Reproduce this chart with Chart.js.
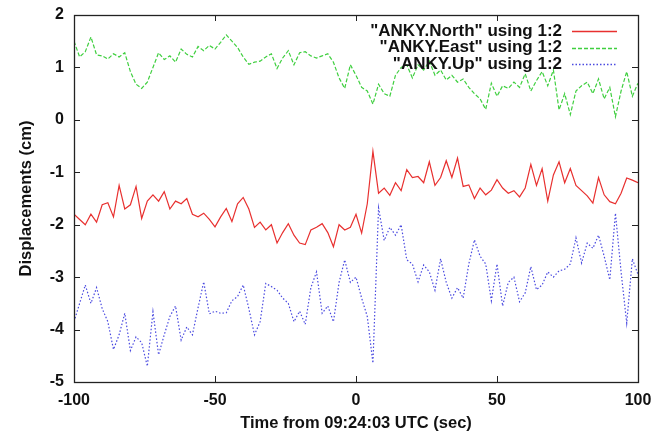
<!DOCTYPE html>
<html>
<head>
<meta charset="utf-8">
<script src="https://cdn.jsdelivr.net/npm/chart.js@4.4.1/dist/chart.umd.min.js"></script>
<style>
  html, body { margin: 0; padding: 0; background: #ffffff; }
  #wrap { width: 654px; height: 435px; }
</style>
</head>
<body>
<div id="wrap"><canvas id="c" width="654" height="435"></canvas></div>
<script>
// Time (sec from 09:24:03 UTC)
const times = [
  -100,-98,-96,-94,-92,-90,-88,-86,-84,-82,
  -80,-78,-76,-74,-72,-70,-68,-66,-64,-62,
  -60,-58,-56,-54,-52,-50,-48,-46,-44,-42,
  -40,-38,-36,-34,-32,-30,-28,-26,-24,-22,
  -20,-18,-16,-14,-12,-10,-8,-6,-4,-2,
  0,2,4,6,8,10,12,14,16,18,
  20,22,24,26,28,30,32,34,36,38,
  40,42,44,46,48,50,52,54,56,58,
  60,62,64,66,68,70,72,74,76,78,
  80,82,84,86,88,90,92,94,96,98,
  100
];

const northValues = [
  -1.80,-1.90,-2.00,-1.80,-1.95,-1.62,-1.58,-1.85,-1.25,-1.70,
  -1.62,-1.27,-1.88,-1.55,-1.43,-1.55,-1.37,-1.70,-1.55,-1.60,
  -1.50,-1.80,-1.85,-1.78,-1.90,-2.04,-1.85,-1.69,-1.94,-1.60,
  -1.48,-1.70,-2.05,-1.95,-2.10,-2.00,-2.35,-2.15,-1.98,-2.20,
  -2.35,-2.38,-2.10,-2.05,-1.98,-2.15,-2.42,-2.00,-2.10,-2.05,
  -1.80,-2.16,-1.60,-0.60,-1.40,-1.30,-1.44,-1.20,-1.35,-0.95,
  -1.10,-1.08,-1.20,-0.80,-1.25,-1.10,-0.78,-1.10,-0.73,-1.27,
  -1.24,-1.50,-1.30,-1.43,-1.34,-1.14,-1.30,-1.40,-1.35,-1.47,
  -1.30,-0.85,-1.25,-0.93,-1.55,-1.05,-0.80,-1.20,-0.93,-1.25,
  -1.35,-1.45,-1.59,-1.10,-1.43,-1.56,-1.60,-1.40,-1.11,-1.15,
  -1.20
];

const eastValues = [
  1.50,1.20,1.30,1.58,1.24,1.22,1.16,1.26,1.20,1.28,
  0.92,0.68,0.60,0.72,1.00,1.28,1.15,1.22,1.10,1.35,
  1.25,1.20,1.40,1.32,1.42,1.35,1.48,1.62,1.50,1.38,
  1.20,1.06,1.10,1.12,1.20,1.26,0.98,1.18,1.32,1.05,
  1.28,1.30,1.22,1.18,1.22,1.26,1.10,0.80,0.60,1.05,
  0.85,0.62,0.55,0.30,0.68,0.50,0.45,0.85,1.00,1.05,
  0.80,1.05,0.95,1.12,0.85,0.95,0.76,0.85,0.72,0.78,
  0.62,0.50,0.40,0.20,0.70,0.45,0.65,0.60,0.72,0.62,
  0.88,0.55,0.75,0.92,0.65,0.95,0.19,0.50,0.10,0.55,
  0.65,0.72,0.50,0.78,0.40,0.62,0.06,0.55,0.92,0.45,
  0.70
];

const upValues = [
  -3.85,-3.50,-3.15,-3.50,-3.20,-3.60,-3.85,-4.38,-4.10,-3.69,
  -4.40,-4.14,-4.25,-4.70,-3.66,-4.48,-4.10,-3.75,-3.55,-4.20,
  -3.95,-4.10,-3.58,-3.09,-3.70,-3.65,-3.69,-3.68,-3.45,-3.37,
  -3.15,-3.60,-4.10,-3.85,-3.12,-3.18,-3.25,-3.40,-3.50,-3.85,
  -3.65,-3.90,-3.20,-2.90,-3.69,-3.55,-3.85,-3.10,-2.67,-3.10,
  -3.00,-3.40,-3.75,-4.64,-1.68,-2.30,-2.05,-2.20,-2.00,-2.67,
  -2.75,-3.09,-2.77,-2.90,-3.25,-2.65,-3.10,-3.40,-3.20,-3.40,
  -2.75,-2.29,-2.60,-2.75,-3.45,-2.75,-3.55,-3.10,-3.00,-3.47,
  -3.30,-2.80,-3.24,-3.15,-2.90,-3.00,-2.88,-2.85,-2.75,-2.25,
  -2.73,-2.35,-2.45,-2.20,-2.60,-3.05,-1.78,-2.90,-3.88,-2.65,
  -2.95
];

const seriesLabels = ['"ANKY.North" using 1:2', '"ANKY.East" using 1:2', '"ANKY.Up" using 1:2'];
const seriesColors = ['#e8302f', '#3fcf3f', '#4a4ae0'];
const seriesDash = [[], [4, 2], [1.5, 2]];
const xTicks = [-100, -50, 0, 50, 100];
const yTicks = [-5, -4, -3, -2, -1, 0, 1, 2];

const FAMILY = '"Liberation Sans", Arial, Helvetica, sans-serif';
const TICKFONT = { family: FAMILY, size: 16, weight: 'bold' };
const TITLEFONT = { family: FAMILY, size: 16.5, weight: 'bold' };

function pts(vals) { return times.map((t, i) => ({ x: t, y: vals[i] })); }

const frame = {
  id: 'gnuframe',
  afterDatasetsDraw(chart) {
    const ctx = chart.ctx;
    const a = chart.chartArea;
    const xs = chart.scales.x, ys = chart.scales.y;
    const tl = 6;
    ctx.save();
    ctx.strokeStyle = '#222222';
    ctx.lineWidth = 1;
    ctx.setLineDash([]);
    ctx.beginPath();
    xTicks.forEach(v => {
      const px = Math.round(xs.getPixelForValue(v)) + 0.5;
      ctx.moveTo(px, a.bottom); ctx.lineTo(px, a.bottom - tl);
      ctx.moveTo(px, a.top); ctx.lineTo(px, a.top + tl);
    });
    yTicks.forEach(v => {
      const py = Math.round(ys.getPixelForValue(v)) + 0.5;
      ctx.moveTo(a.left, py); ctx.lineTo(a.left + tl, py);
      ctx.moveTo(a.right, py); ctx.lineTo(a.right - tl, py);
    });
    ctx.stroke();
    ctx.lineWidth = 1.3;
    ctx.strokeRect(Math.round(a.left) + 0.5, Math.round(a.top) + 0.5,
                   Math.round(a.right - a.left), Math.round(a.bottom - a.top));
    ctx.restore();
    // legend (top right, gnuplot style)
    seriesLabels.forEach((lab, i) => {
      const y = 31 + i * 16.7;
      ctx.save();
      ctx.font = 'bold 17px ' + FAMILY;
      ctx.textAlign = 'right';
      ctx.textBaseline = 'middle';
      ctx.fillStyle = '#111111';
      ctx.fillText(lab, 562, y);
      ctx.restore();
      ctx.save();
      ctx.beginPath();
      ctx.strokeStyle = seriesColors[i];
      ctx.lineWidth = 1.4;
      ctx.setLineDash(seriesDash[i]);
      ctx.moveTo(572, Math.round(y) + 0.5);
      ctx.lineTo(617, Math.round(y) + 0.5);
      ctx.stroke();
      ctx.restore();
    });
  }
};

new Chart(document.getElementById('c'), {
  type: 'line',
  data: {
    datasets: seriesLabels.map((lab, i) => ({
      label: lab,
      data: pts([northValues, eastValues, upValues][i]),
      borderColor: seriesColors[i],
      borderWidth: 1.2,
      borderDash: seriesDash[i],
      pointRadius: 0,
      tension: 0,
      fill: false
    }))
  },
  options: {
    responsive: false,
    animation: false,
    devicePixelRatio: 1,
    layout: { padding: { left: 0, right: 16, top: 15, bottom: 0 } },
    plugins: { legend: { display: false }, tooltip: { enabled: false } },
    scales: {
      x: {
        type: 'linear', min: -100, max: 100,
        afterBuildTicks(s) { s.ticks = xTicks.map(v => ({ value: v })); },
        afterFit(s) { s.height = 53; s.paddingLeft = 0; s.paddingRight = 0; },
        grid: { display: false, drawTicks: false },
        border: { display: false },
        ticks: { color: '#111111', font: TICKFONT, padding: 9, maxRotation: 0, autoSkip: false },
        title: { display: true, text: 'Time from 09:24:03 UTC (sec)', color: '#111111', font: TITLEFONT, padding: { top: 0, bottom: 2 } }
      },
      y: {
        type: 'linear', min: -5, max: 2,
        afterBuildTicks(s) { s.ticks = yTicks.map(v => ({ value: v })); },
        afterFit(s) { s.width = 74; s.paddingTop = 0; s.paddingBottom = 0; },
        grid: { display: false, drawTicks: false },
        border: { display: false },
        ticks: { color: '#111111', font: TICKFONT, padding: 10, autoSkip: false },
        title: { display: true, text: 'Displacements (cm)', color: '#111111', font: TITLEFONT, padding: { top: 17, bottom: 0 } }
      }
    }
  },
  plugins: [frame]
});
</script>
</body>
</html>
